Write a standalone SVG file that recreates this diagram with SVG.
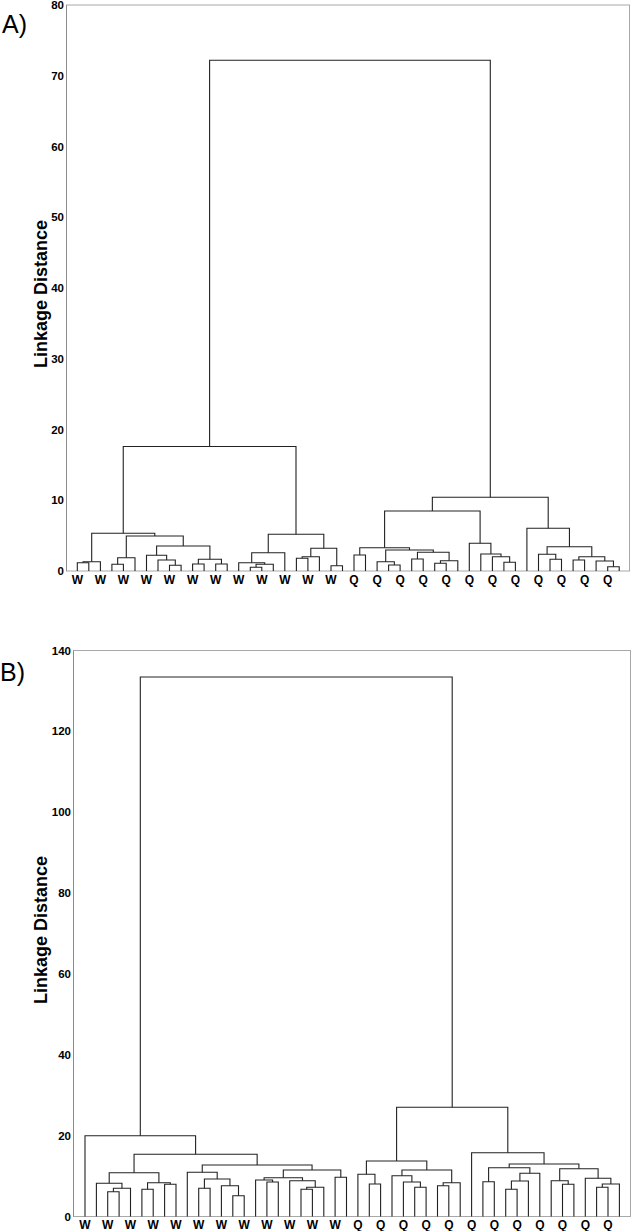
<svg xmlns="http://www.w3.org/2000/svg" width="632" height="1231" viewBox="0 0 632 1231">
<style>
.frame{fill:none;stroke:#a8a8a8;stroke-width:1}
.axis{stroke:#8c8c8c;stroke-width:1}
.link{fill:none;stroke:#222;stroke-width:1.1}
.tick{font-family:"Liberation Sans",Arial,sans-serif;font-weight:bold;font-size:11.5px;fill:#000;text-anchor:end}
.leaf{font-family:"Liberation Sans",Arial,sans-serif;font-weight:bold;font-size:12px;fill:#000;text-anchor:middle}
.title{font-family:"Liberation Sans",Arial,sans-serif;font-weight:bold;font-size:18px;fill:#000;text-anchor:middle}
.panel{font-family:"Liberation Sans",Arial,sans-serif;font-size:25px;fill:#000}
</style>
<rect width="632" height="1231" fill="#fff"/>
<g id="panelA">
  <text id="labelA" class="panel" x="2" y="33">A)</text>
  <g id="axesA">
    <rect class="frame" x="66.5" y="5" width="563" height="566"/>
    <line class="axis" x1="66.5" y1="5" x2="66.5" y2="571"/>
    <text class="tick" x="64" y="575">0</text>
    <text class="tick" x="64" y="504.3">10</text>
    <text class="tick" x="64" y="433.5">20</text>
    <text class="tick" x="64" y="362.8">30</text>
    <text class="tick" x="64" y="292">40</text>
    <text class="tick" x="64" y="221.3">50</text>
    <text class="tick" x="64" y="150.5">60</text>
    <text class="tick" x="64" y="79.8">70</text>
    <text class="tick" x="64" y="9">80</text>
    <text class="title" x="47" y="294" transform="rotate(-90 47 294)">Linkage Distance</text>
  </g>
  <g id="leavesA">
    <text class="leaf" x="77.3" y="584">W</text>
    <text class="leaf" x="100.4" y="584">W</text>
    <text class="leaf" x="123.4" y="584">W</text>
    <text class="leaf" x="146.5" y="584">W</text>
    <text class="leaf" x="169.5" y="584">W</text>
    <text class="leaf" x="192.6" y="584">W</text>
    <text class="leaf" x="215.7" y="584">W</text>
    <text class="leaf" x="238.7" y="584">W</text>
    <text class="leaf" x="261.8" y="584">W</text>
    <text class="leaf" x="284.8" y="584">W</text>
    <text class="leaf" x="307.9" y="584">W</text>
    <text class="leaf" x="331" y="584">W</text>
    <text class="leaf" x="354" y="584">Q</text>
    <text class="leaf" x="377.1" y="584">Q</text>
    <text class="leaf" x="400.1" y="584">Q</text>
    <text class="leaf" x="423.2" y="584">Q</text>
    <text class="leaf" x="446.2" y="584">Q</text>
    <text class="leaf" x="469.3" y="584">Q</text>
    <text class="leaf" x="492.4" y="584">Q</text>
    <text class="leaf" x="515.4" y="584">Q</text>
    <text class="leaf" x="538.5" y="584">Q</text>
    <text class="leaf" x="561.5" y="584">Q</text>
    <text class="leaf" x="584.6" y="584">Q</text>
    <text class="leaf" x="607.7" y="584">Q</text>
  </g>
  <g id="connectorsA">
    <path class="link" d="M77.3 571V562.7H88.8V571"/>
    <path class="link" d="M83.05 562.7V561.7H100.4V571"/>
    <path class="link" d="M111.9 571V564.3H123.4V571"/>
    <path class="link" d="M117.65 564.3V557.7H135V571"/>
    <path class="link" d="M169.5 571V565.3H181.1V571"/>
    <path class="link" d="M158 571V560H175.3V565.3"/>
    <path class="link" d="M146.5 571V555.3H166.65V560"/>
    <path class="link" d="M192.6 571V564H204.1V571"/>
    <path class="link" d="M215.7 571V564H227.2V571"/>
    <path class="link" d="M198.35 564V559.3H221.45V564"/>
    <path class="link" d="M156.6 555.3V546H209.9V559.3"/>
    <path class="link" d="M126.3 557.7V536H183.25V546"/>
    <path class="link" d="M91.7 561.7V533.3H154.8V536"/>
    <path class="link" d="M250.3 571V567.3H261.8V571"/>
    <path class="link" d="M256.05 567.3V564.3H273.3V571"/>
    <path class="link" d="M238.7 571V562.7H264.7V564.3"/>
    <path class="link" d="M251.7 562.7V552.7H284.8V571"/>
    <path class="link" d="M296.4 571V558.3H307.9V571"/>
    <path class="link" d="M302.15 558.3V556.7H319.4V571"/>
    <path class="link" d="M331 571V565.7H342.5V571"/>
    <path class="link" d="M310.8 556.7V548.3H336.75V565.7"/>
    <path class="link" d="M268.25 552.7V534.3H323.8V548.3"/>
    <path class="link" d="M123.25 533.3V446.5H296V534.3"/>
    <path class="link" d="M354 571V555H365.5V571"/>
    <path class="link" d="M388.6 571V565H400.1V571"/>
    <path class="link" d="M377.1 571V561.7H394.35V565"/>
    <path class="link" d="M411.7 571V559H423.2V571"/>
    <path class="link" d="M434.7 571V563.3H446.2V571"/>
    <path class="link" d="M440.45 563.3V560.7H457.8V571"/>
    <path class="link" d="M417.45 559V552.3H449.1V560.7"/>
    <path class="link" d="M385.7 561.7V550H433.3V552.3"/>
    <path class="link" d="M359.75 555V547.7H409.5V550"/>
    <path class="link" d="M503.9 571V562.3H515.4V571"/>
    <path class="link" d="M492.4 571V556.7H509.65V562.3"/>
    <path class="link" d="M480.8 571V554H501V556.7"/>
    <path class="link" d="M469.3 571V543.3H490.9V554"/>
    <path class="link" d="M384.6 547.7V511H480.1V543.3"/>
    <path class="link" d="M550 571V559.3H561.5V571"/>
    <path class="link" d="M538.5 571V554.3H555.75V559.3"/>
    <path class="link" d="M573.1 571V560H584.6V571"/>
    <path class="link" d="M607.7 571V566.7H619.2V571"/>
    <path class="link" d="M596.1 571V561H613.45V566.7"/>
    <path class="link" d="M578.85 560V556.7H604.8V561"/>
    <path class="link" d="M547.1 554.3V546.7H591.8V556.7"/>
    <path class="link" d="M526.9 571V528.3H569.45V546.7"/>
    <path class="link" d="M432.35 511V497.3H548.2V528.3"/>
    <path class="link" d="M209.6 446.5V60.2H490.3V497.3"/>
  </g>
</g>
<g id="panelB">
  <text id="labelB" class="panel" x="0" y="681">B)</text>
  <g id="axesB">
    <rect class="frame" x="73.5" y="650.5" width="557" height="566"/>
    <line class="axis" x1="73.5" y1="650.5" x2="73.5" y2="1216.5"/>
    <text class="tick" x="71" y="1220.5">0</text>
    <text class="tick" x="71" y="1139.6">20</text>
    <text class="tick" x="71" y="1058.7">40</text>
    <text class="tick" x="71" y="977.8">60</text>
    <text class="tick" x="71" y="896.9">80</text>
    <text class="tick" x="71" y="816">100</text>
    <text class="tick" x="71" y="735.1">120</text>
    <text class="tick" x="71" y="654.5">140</text>
    <text class="title" x="47" y="930" transform="rotate(-90 47 930)">Linkage Distance</text>
  </g>
  <g id="leavesB">
    <text class="leaf" x="85" y="1229">W</text>
    <text class="leaf" x="107.7" y="1229">W</text>
    <text class="leaf" x="130.5" y="1229">W</text>
    <text class="leaf" x="153.2" y="1229">W</text>
    <text class="leaf" x="176" y="1229">W</text>
    <text class="leaf" x="198.7" y="1229">W</text>
    <text class="leaf" x="221.4" y="1229">W</text>
    <text class="leaf" x="244.2" y="1229">W</text>
    <text class="leaf" x="266.9" y="1229">W</text>
    <text class="leaf" x="289.7" y="1229">W</text>
    <text class="leaf" x="312.4" y="1229">W</text>
    <text class="leaf" x="335.1" y="1229">W</text>
    <text class="leaf" x="357.9" y="1229">Q</text>
    <text class="leaf" x="380.6" y="1229">Q</text>
    <text class="leaf" x="403.4" y="1229">Q</text>
    <text class="leaf" x="426.1" y="1229">Q</text>
    <text class="leaf" x="448.8" y="1229">Q</text>
    <text class="leaf" x="471.6" y="1229">Q</text>
    <text class="leaf" x="494.3" y="1229">Q</text>
    <text class="leaf" x="517.1" y="1229">Q</text>
    <text class="leaf" x="539.8" y="1229">Q</text>
    <text class="leaf" x="562.5" y="1229">Q</text>
    <text class="leaf" x="585.3" y="1229">Q</text>
    <text class="leaf" x="608" y="1229">Q</text>
  </g>
  <g id="connectorsB">
    <path class="link" d="M107.7 1216.5V1191.7H119.1V1216.5"/>
    <path class="link" d="M113.4 1191.7V1188.3H130.5V1216.5"/>
    <path class="link" d="M96.4 1216.5V1183.3H121.95V1188.3"/>
    <path class="link" d="M141.9 1216.5V1189.3H153.2V1216.5"/>
    <path class="link" d="M164.6 1216.5V1184.3H176V1216.5"/>
    <path class="link" d="M147.55 1189.3V1182.7H170.3V1184.3"/>
    <path class="link" d="M109.2 1183.3V1172.7H158.9V1182.7"/>
    <path class="link" d="M198.7 1216.5V1188.3H210.1V1216.5"/>
    <path class="link" d="M232.8 1216.5V1195.7H244.2V1216.5"/>
    <path class="link" d="M221.4 1216.5V1185.7H238.5V1195.7"/>
    <path class="link" d="M204.4 1188.3V1179H229.95V1185.7"/>
    <path class="link" d="M187.3 1216.5V1172.3H217.2V1179"/>
    <path class="link" d="M266.9 1216.5V1182H278.3V1216.5"/>
    <path class="link" d="M255.6 1216.5V1180H272.6V1182"/>
    <path class="link" d="M301 1216.5V1189.3H312.4V1216.5"/>
    <path class="link" d="M306.7 1189.3V1187.3H323.8V1216.5"/>
    <path class="link" d="M289.7 1216.5V1180.7H315.25V1187.3"/>
    <path class="link" d="M264.1 1180V1177.7H302.5V1180.7"/>
    <path class="link" d="M335.1 1216.5V1177.3H346.5V1216.5"/>
    <path class="link" d="M283.3 1177.7V1170H340.8V1177.3"/>
    <path class="link" d="M202.25 1172.3V1165H312.05V1170"/>
    <path class="link" d="M134.05 1172.7V1154.3H257.15V1165"/>
    <path class="link" d="M85 1216.5V1135.7H195.6V1154.3"/>
    <path class="link" d="M369.3 1216.5V1184H380.6V1216.5"/>
    <path class="link" d="M357.9 1216.5V1174.3H374.95V1184"/>
    <path class="link" d="M414.7 1216.5V1187.3H426.1V1216.5"/>
    <path class="link" d="M403.4 1216.5V1182H420.4V1187.3"/>
    <path class="link" d="M392 1216.5V1175.7H411.9V1182"/>
    <path class="link" d="M437.5 1216.5V1185.7H448.8V1216.5"/>
    <path class="link" d="M443.15 1185.7V1182.7H460.2V1216.5"/>
    <path class="link" d="M401.95 1175.7V1170H451.7V1182.7"/>
    <path class="link" d="M366.4 1174.3V1161H426.8V1170"/>
    <path class="link" d="M482.9 1216.5V1181.7H494.3V1216.5"/>
    <path class="link" d="M505.7 1216.5V1189.3H517.1V1216.5"/>
    <path class="link" d="M511.4 1189.3V1181H528.4V1216.5"/>
    <path class="link" d="M519.9 1181V1173.3H539.8V1216.5"/>
    <path class="link" d="M488.6 1181.7V1167.7H529.85V1173.3"/>
    <path class="link" d="M562.5 1216.5V1184.3H573.9V1216.5"/>
    <path class="link" d="M551.2 1216.5V1180.7H568.2V1184.3"/>
    <path class="link" d="M596.6 1216.5V1187.3H608V1216.5"/>
    <path class="link" d="M602.3 1187.3V1184H619.4V1216.5"/>
    <path class="link" d="M585.3 1216.5V1178.3H610.85V1184"/>
    <path class="link" d="M559.7 1180.7V1168.7H598.1V1178.3"/>
    <path class="link" d="M509.2 1167.7V1164H578.9V1168.7"/>
    <path class="link" d="M471.6 1216.5V1152.7H544.05V1164"/>
    <path class="link" d="M396.6 1161V1107.3H507.8V1152.7"/>
    <path class="link" d="M140.3 1135.7V677H452.2V1107.3"/>
  </g>
</g>
</svg>
